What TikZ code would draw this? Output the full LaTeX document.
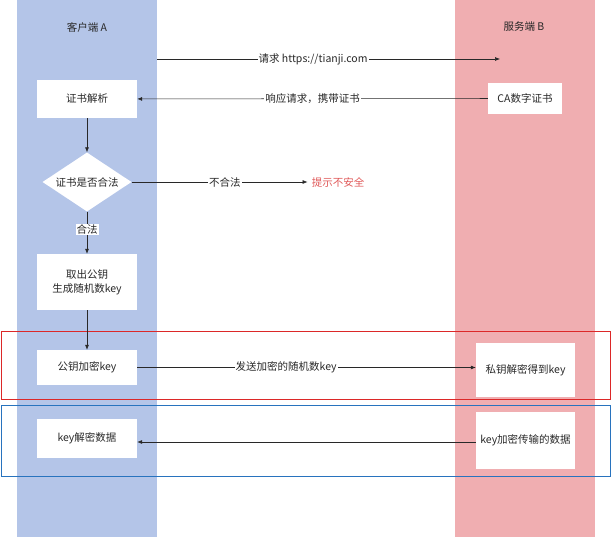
\documentclass[tikz,border=0pt]{standalone}
\usepackage{fontspec}
\setmainfont{Noto Sans CJK SC}
\usetikzlibrary{shapes.geometric,arrows.meta}
\definecolor{laneA}{RGB}{180,197,232}
\definecolor{laneB}{RGB}{240,174,177}
\definecolor{frameR}{RGB}{220,40,40}
\definecolor{frameB}{RGB}{40,115,190}
\definecolor{warnR}{RGB}{224,90,90}
\definecolor{ink}{RGB}{40,40,40}

\begin{document}
\begin{tikzpicture}[x=1pt,y=-1pt,font=\fontsize{10.5}{14}\selectfont,text=ink,
	box/.style={fill=white,inner sep=1pt,align=center},
	check/.style={diamond,fill=white,inner sep=0pt,aspect=1.5,minimum width=89pt,minimum height=59pt},
	flow/.style={draw=ink,line width=0.6pt,-{Latex[length=5pt,width=4pt]}},
	lbl/.style={fill=white,inner sep=1pt}]
		\useasboundingbox (0,0) rectangle (612,540);
		% the two lanes
		\fill[laneA] (17,0) rectangle (157,537);
		\fill[laneB] (455,0) rectangle (595,537);
		\node (titleA) at (87,27) {客户端 A};
		\node (titleB) at (524,27) {服务端 B};
		% client side
		\node (parse)[box,minimum width=100pt,minimum height=38pt] at (87,99) {证书解析};
		\node (valid)[check] at (87,182) {证书是否合法};
		\node (keygen)[box,minimum width=100pt,minimum height=56pt] at (87,282) {取出公钥\\生成随机数key};
		\node (enc)[box,minimum width=100pt,minimum height=35pt] at (87,367.5) {公钥加密key};
		\node (dec)[box,minimum width=100pt,minimum height=39pt] at (87,438.5) {key解密数据};
		\node (warn)[text=warnR,inner sep=4pt] at (338,182) {提示不安全};
		% server side
		\node (cert)[box,minimum width=74pt,minimum height=31pt] at (525,98.5) {CA数字证书};
		\node (priv)[box,minimum width=99pt,minimum height=54pt] at (525.5,370) {私钥解密得到key};
		\node (data)[box,minimum width=99pt,minimum height=57pt] at (525.5,440.5) {key加密传输的数据};
		\coordinate (reqA) at (157,59);
		\coordinate (reqB) at (500,59);
		% frames
		\draw[frameR,line width=0.8pt] (1,331) rectangle (610,399);
		\draw[frameB,line width=0.8pt] (1,405) rectangle (610,476);
		% messages
		\draw[flow] (reqA) -- node[lbl,pos=0.455]{请求 https://tianji.com} (reqB);
		\draw[flow] (cert) -- node[lbl]{响应请求，携带证书} (parse);
		\draw[flow] (parse) -- (valid);
		\draw[flow] (valid) -- node[lbl,pos=0.53]{不合法} (warn);
		\draw[flow] (valid) -- node[lbl,pos=0.42]{合法} (keygen);
		\draw[flow] (keygen) -- (enc);
		\draw[flow] (enc) -- node[lbl,pos=0.44]{发送加密的随机数key} (priv.west |- enc);
		\draw[flow] (data.west |- 0,442) -- (dec.east |- 0,442);
\end{tikzpicture}
\end{document}
